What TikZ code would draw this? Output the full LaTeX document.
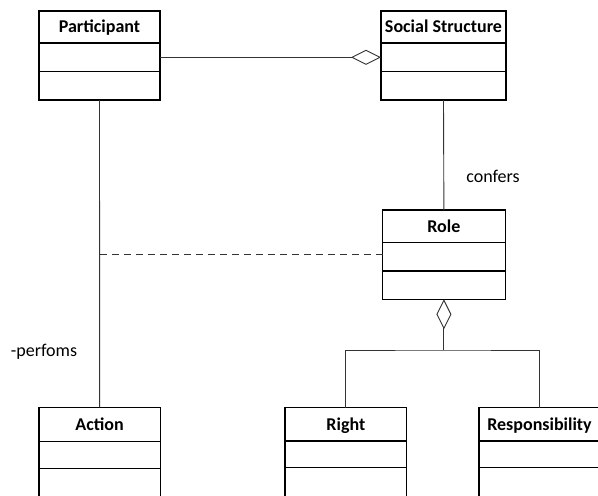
\documentclass[tikz,border=0pt]{standalone}
\usepackage{fontspec}
\setmainfont{Carlito}
\usetikzlibrary{arrows.meta}
\begin{document}
\begin{tikzpicture}[x=1pt,y=-1pt,
  box/.style={draw, line width=1.1pt, inner sep=0pt, outer sep=0pt, anchor=north west},
  hdr/.style={box, font=\fontsize{18}{21}\selectfont\bfseries, text height=11.6pt, text depth=0pt},
  conn/.style={line width=0.9pt, draw=black!80},
  agg/.style={{Diamond[open,length=30pt,width=15pt,line width=0.9pt]}-},
  lbl/.style={font=\fontsize{18}{21}\selectfont, inner sep=0pt}]
\useasboundingbox (0,0) rectangle (598,496);
\clip (0,0) rectangle (598,496);
% Participant
\node[hdr, minimum width=121pt, minimum height=32pt] (p) at (39,11) {Participant};
\node[box, minimum width=121pt, minimum height=28.7pt] (pc1) at (39,43) {};
\node[box, minimum width=121pt, minimum height=28.3pt] (pc2) at (39,71.7) {};
% Social Structure
\node[hdr, minimum width=125pt, minimum height=32pt] (s) at (381,11) {Social Structure};
\node[box, minimum width=125pt, minimum height=28.7pt] (sc1) at (381,43) {};
\node[box, minimum width=125pt, minimum height=28.3pt] (sc2) at (381,71.7) {};
% Role
\node[hdr, minimum width=122.4pt, minimum height=32.7pt] (r) at (382.7,210) {Role};
\node[box, minimum width=122.4pt, minimum height=28.3pt] (rc1) at (382.7,242.7) {};
\node[box, minimum width=122.4pt, minimum height=28.3pt] (rc2) at (382.7,271) {};
% Action
\node[hdr, minimum width=121.3pt, minimum height=34.4pt] (a) at (39,407.3) {Action};
\node[box, minimum width=121.3pt, minimum height=26.6pt] (ac1) at (39,441.7) {};
\node[box, minimum width=121.3pt, minimum height=40pt] (ac2) at (39,468.3) {};
% Right
\node[hdr, minimum width=121.7pt, minimum height=33.3pt] (rt) at (285,407.7) {Right};
\node[box, minimum width=121.7pt, minimum height=26.7pt] (rtc1) at (285,441) {};
\node[box, minimum width=121.7pt, minimum height=40pt] (rtc2) at (285,467.7) {};
% Responsibility
\node[hdr, minimum width=121pt, minimum height=33.3pt] (rs) at (479,407.7) {Responsibility};
\node[box, minimum width=121pt, minimum height=26.7pt] (rsc1) at (479,441) {};
\node[box, minimum width=121pt, minimum height=40pt] (rsc2) at (479,467.7) {};
% connectors
\draw[conn, -{Diamond[open,length=30pt,width=15pt,line width=0.9pt]}] (pc1.east) -- (sc1.west);
\draw[conn] (sc2.south) -- (r.north);
\node[lbl] (confers) at (493,176) {confers};
\draw[conn] (pc2.south) -- (a.north);
\coordinate (d) at (99.6,254);
\draw[conn, dash pattern=on 7.7pt off 4.3pt] (d) -- (d -| rc1.west);
\node[lbl] (perf) at (44,352) {-perfoms};
\coordinate (j) at (rc2.south |- 0,350);
\draw[conn, agg] (rc2.south) -- (j);
\draw[conn] (rt.north) |- (j) -| (rs.north);
\end{tikzpicture}
\end{document}
